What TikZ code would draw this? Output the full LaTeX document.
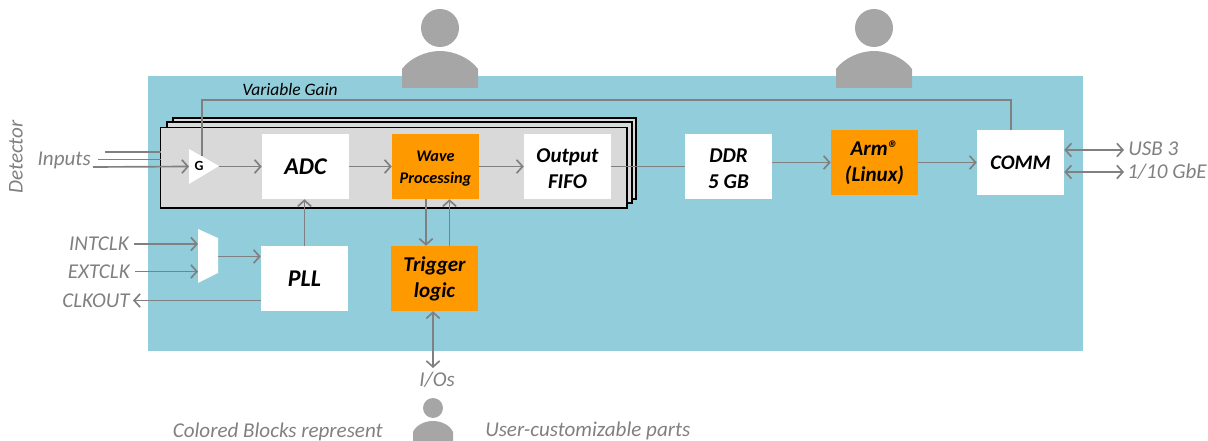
\documentclass[tikz,border=0pt]{standalone}
\usepackage{fontspec}
\setmainfont{Carlito}
\usetikzlibrary{arrows.meta,calc}
\definecolor{panelblue}{HTML}{92CDDC}
\definecolor{stackgray}{HTML}{D9D9D9}
\definecolor{linegray}{HTML}{808080}
\definecolor{persongray}{HTML}{A6A6A6}
\definecolor{custorange}{HTML}{FF9900}
\tikzset{
  x=0.75pt,y=-0.75pt,
  blockbox/.style={fill=white,inner sep=0pt,align=center,minimum width=65.25pt,minimum height=48.75pt,font=\fontsize{15.8}{19.5}\selectfont\bfseries\itshape,text=black},
  bigblock/.style={blockbox,font=\fontsize{18}{21}\selectfont\bfseries\itshape},
  orangeblock/.style={blockbox,fill=custorange},
  stackbox/.style={draw=black,fill=stackgray,line width=0.8pt},
  conn/.style={draw=linegray,line width=1.25pt,-{Straight Barb[length=4.5pt,width=10pt,line width=1.25pt]}},
  both/.style={conn,{Straight Barb[length=4.5pt,width=10pt,line width=1.25pt]}-{Straight Barb[length=4.5pt,width=10pt,line width=1.25pt]}},
  plainconn/.style={draw=linegray,line width=1.25pt},
  graylabel/.style={text=linegray,inner sep=0pt,font=\fontsize{15.8}{19}\selectfont\itshape},
}
\newcommand{\personshape}[2]{%
  \fill[persongray] (#1,#2) circle (19);
  \fill[persongray] ({#1-38},{#2+60}) -- ({#1-38},{#2+41}) .. controls ({#1-30},{#2+30}) and ({#1-14},{#2+23}) .. ({#1},{#2+23}) .. controls ({#1+14},{#2+23}) and ({#1+30},{#2+30}) .. ({#1+38},{#2+41}) -- ({#1+38},{#2+60}) -- cycle;
}
\begin{document}
\begin{tikzpicture}
\useasboundingbox (0,0) rectangle (1208,441);
\fill[panelblue] (148,76) rectangle (1083,351);
\personshape{440}{28}
\personshape{874}{28}
\begin{scope}
\clip (400,395) rectangle (470,441);
\fill[persongray] (433,408) circle (10);
\fill[persongray] (413,445) -- (413,432) .. controls (416,425) and (425,421) .. (433,421) .. controls (441,421) and (450,425) .. (453,432) -- (453,445) -- cycle;
\end{scope}
% stacked channel cards
\draw[stackbox] (173,118) rectangle (636,199);
\draw[stackbox] (167,122) rectangle (632,203);
\draw[stackbox] (160.5,127.5) rectangle (627,208);
% blocks
\node[bigblock] (adc) at (305.5,166.5) {ADC};
\node[orangeblock,font=\fontsize{12.2}{16.5}\selectfont\bfseries\itshape] (wave) at (435.5,166.5) {\rule{0pt}{11pt}Wave\\Processing};
\node[blockbox] (fifo) at (567.5,166.5) {\rule{0pt}{13pt}Output\\FIFO};
\node[blockbox] (ddr) at (728.5,166.5) {\rule{0pt}{13pt}DDR\\5 GB};
\node[orangeblock] (arm) at (874.5,162.5) {\rule{0pt}{12pt}Arm®\\(Linux)};
\node[blockbox,font=\fontsize{15.5}{18}\selectfont\bfseries\itshape] (comm) at (1020.5,162.5) {COMM};
\node[bigblock] (pll) at (304.5,278.5) {PLL};
\node[orangeblock] (trig) at (434.5,278.5) {\rule{0pt}{12pt}Trigger\\logic};
% amplifier and mux
\fill[white] (189,149) -- (219,166) -- (189,184) -- cycle;
\node[inner sep=0pt,font=\fontsize{10.5}{12}\selectfont\bfseries] (gain) at (199,166) {G};
\fill[white] (198,229) -- (218,238) -- (218,273) -- (198,283) -- cycle;
% labels
\node[inner sep=0pt,font=\fontsize{13.1}{15}\selectfont\itshape,text=black] (vg) at (290,90) {Variable Gain};
\node[graylabel,anchor=east] (inputs) at (91,160) {Inputs};
\node[graylabel,rotate=90] (det) at (16,157) {Detector};
\node[graylabel,anchor=east] (intclk) at (129,244) {INTCLK};
\node[graylabel,anchor=east] (extclk) at (130,272) {EXTCLK};
\node[graylabel,anchor=east] (clkout) at (130,301) {CLKOUT};
\node[graylabel,anchor=west] (usb) at (1128,149) {USB 3};
\node[graylabel,anchor=west] (gbe) at (1127,172) {1/10 GbE};
\node[graylabel] (ios) at (437,380) {I/Os};
\node[graylabel,anchor=east] (colored) at (383,432) {Colored Blocks represent};
\node[graylabel,anchor=west] (user) at (485,431) {User-customizable parts};
% free ends
\coordinate (gin) at (189,166.5);
\coordinate (gout) at (219,166.5);
\coordinate (gtop) at (202,156);
\coordinate (in1) at (105,152);
\coordinate (in1e) at (160.5,152);
\coordinate (in2) at (98,159.5);
\coordinate (in2e) at (160.5,159.5);
\coordinate (in3) at (93,167);
\coordinate (muxa) at (198,244);
\coordinate (muxb) at (198,271.5);
\coordinate (muxo) at (218,256.5);
\coordinate (intc) at (134,244);
\coordinate (extc) at (135,271.5);
\coordinate (clko) at (133,300.5);
\coordinate (usbe) at (1124,150);
\coordinate (gbee) at (1124,172);
\coordinate (iose) at (433,368);
% connectors
\draw[plainconn] (in1) -- (in1e);
\draw[plainconn] (in2) -- (in2e);
\draw[conn] (in3) -- (gin);
\draw[conn] (gout) -- (adc.west);
\draw[conn] (adc.east) -- (wave.west);
\draw[conn] (wave.east) -- (fifo.west);
\draw[plainconn] (fifo.east) -- (fifo.east -| ddr.west);
\draw[conn] (ddr.east |- arm.west) -- (arm.west);
\draw[conn] (arm.east) -- (comm.west);
\draw[plainconn] (comm.north) ++(-9.5,0) coordinate (cu) -- (cu |- 0,100) -- (gtop |- 0,100) -- (gtop);
\draw[conn] (intc) -- (muxa);
\draw[conn] (extc) -- (muxb);
\draw[conn] (muxo) -- (muxo -| pll.west);
\draw[conn] (pll.north) -- (pll.north |- adc.south);
\draw[conn] (pll.west |- clko) -- (clko);
\draw[conn] (426,199) coordinate (wd) -- (wd |- trig.north);
\draw[conn] (449.5,246) coordinate (tu) -- (tu |- wave.south);
\draw[both] (trig.south -| iose) -- (iose);
\draw[both] (comm.east |- usbe) -- (usbe);
\draw[both] (comm.east |- gbee) -- (gbee);
\end{tikzpicture}
\end{document}
